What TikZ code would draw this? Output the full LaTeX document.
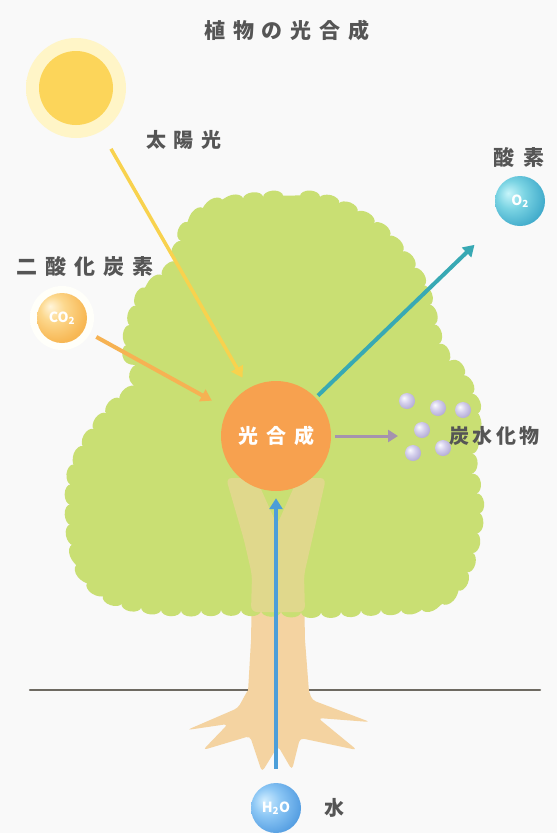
\documentclass[tikz,border=0pt]{standalone}
\usepackage{fontspec}
\newfontfamily\jp{Noto Sans CJK JP}
\usetikzlibrary{arrows.meta,decorations.pathmorphing}

\definecolor{bgc}{HTML}{F9F9F9}
\definecolor{leaf}{HTML}{C9DF73}
\definecolor{bark}{HTML}{F4D3A1}
\definecolor{labgray}{HTML}{555555}
\definecolor{sunc}{HTML}{FCD55A}
\definecolor{yelarr}{HTML}{F8D24E}
\definecolor{orarr}{HTML}{F6B253}
\definecolor{tealarr}{HTML}{38A9B4}
\definecolor{purparr}{HTML}{A593AE}
\definecolor{bluearr}{HTML}{4C9ED9}
\definecolor{psc}{HTML}{F7A14F}
\definecolor{groundc}{HTML}{6E6A62}

% soft spheres, lit from the upper left
\pgfdeclareradialshading{orangeball}{\pgfpoint{-12bp}{12bp}}{rgb(0bp)=(1,0.96,0.86); rgb(12bp)=(0.99,0.85,0.56); rgb(30bp)=(0.97,0.72,0.33); rgb(60bp)=(0.96,0.70,0.30)}
\pgfdeclareradialshading{tealball}{\pgfpoint{-12bp}{8bp}}{rgb(0bp)=(0.78,0.96,0.98); rgb(14bp)=(0.48,0.83,0.89); rgb(32bp)=(0.24,0.66,0.79); rgb(60bp)=(0.20,0.60,0.76)}
\pgfdeclareradialshading{blueball}{\pgfpoint{-12bp}{8bp}}{rgb(0bp)=(0.82,0.93,1); rgb(14bp)=(0.55,0.78,0.96); rgb(32bp)=(0.32,0.61,0.88); rgb(60bp)=(0.28,0.56,0.85)}
\pgfdeclareradialshading{lavball}{\pgfpoint{-10bp}{10bp}}{rgb(0bp)=(0.98,0.98,1); rgb(14bp)=(0.84,0.82,0.93); rgb(32bp)=(0.69,0.66,0.83); rgb(60bp)=(0.66,0.63,0.80)}
% pale halos fading into the paper
\pgfdeclareradialshading{sunglow}{\pgfpoint{0bp}{0bp}}{rgb(0bp)=(1,0.96,0.78); rgb(36bp)=(1,0.96,0.78); rgb(42bp)=(0.995,0.975,0.88); rgb(50bp)=(0.976,0.976,0.976)}
\pgfdeclareradialshading{orangeglow}{\pgfpoint{0bp}{0bp}}{rgb(0bp)=(1,1,0.98); rgb(38bp)=(1,1,0.98); rgb(50bp)=(0.976,0.976,0.976)}

\begin{document}
\begin{tikzpicture}[x=1pt,y=-1pt,
  lab/.style={font=\jp\bfseries\fontsize{20}{24}\selectfont\addfontfeature{LetterSpace=38}, text=labgray, inner sep=0pt},
  gasball/.style={circle, inner sep=0pt, minimum size=50pt, text=white, font=\jp\bfseries\fontsize{14}{16}\selectfont},
  carbball/.style={circle, inner sep=0pt, minimum size=16pt, shading=lavball},
  arr/.style={line width=4pt, -{Triangle[width=13pt,length=11pt]}},
  canopy/.style={fill=leaf, decorate, decoration={bumps, segment length=40pt, amplitude=6pt}},
]
\fill[bgc] (0,0) rectangle (557,833);
\useasboundingbox (0,0) rectangle (557,833);

% title
\node[lab, font=\jp\bfseries\fontsize{21}{24}\selectfont\addfontfeature{LetterSpace=38}] (title) at (287,30) {植物の光合成};

% sun
\shade[shading=sunglow] (76,88) circle (50pt);
\node[circle, fill=sunc, minimum size=74pt, inner sep=0pt] (sun) at (76,88) {};
\node[lab] (lsun) at (184,140) {太陽光};

% ground
\draw[groundc, line width=2.5pt, line cap=round] (30,690) -- (540,690);

% trunk below the crown
\fill[bark] (248,692) -- (251,640) -- (252,590) -- (304,590) -- (305,640) -- (309,692) -- cycle;

% tree crown
\fill[canopy] plot[smooth cycle, tension=0.55] coordinates {
  (240,200) (300,196) (340,205) (375,225) (400,250) (420,280) (430,310)
  (440,345) (462,375) (475,410) (472,460) (478,510) (470,560) (455,590)
  (425,606) (370,610) (320,612) (240,610) (170,610) (120,602) (88,580)
  (73,540) (72,480) (88,440) (110,410) (133,385) (128,345) (140,300)
  (170,268) (183,235) (205,210)};

% forked trunk showing through the leaves
\fill[bark, opacity=0.55, rounded corners=6pt] (251,612) -- (252,575) -- (244,540) -- (226,478) -- (256,478)
  -- (277,525) -- (298,478) -- (326,478) -- (312,540) -- (304,575) -- (305,612) -- cycle;

% roots
\fill[bark, rounded corners=4pt] (249,688) -- (238,708) -- (187,730) -- (228,724) -- (203,750)
  -- (250,736) -- (262,772) -- (278,746) -- (292,770) -- (300,738) -- (357,750) -- (318,718)
  -- (370,722) -- (312,700) -- (308,688) -- cycle;

% photosynthesis
\node[circle, fill=psc, minimum size=110pt, inner sep=0pt, text=white,
      font=\jp\bfseries\fontsize{20}{24}\selectfont\addfontfeature{LetterSpace=40}] (ps) at (276,436) {光合成};

% carbon dioxide
\node[lab, font=\jp\bfseries\fontsize{21}{24}\selectfont\addfontfeature{LetterSpace=38}] (lco2) at (85,267) {二酸化炭素};
\shade[shading=orangeglow] (62,318) circle (32pt);
\node[gasball, shading=orangeball] (co2) at (62,318) {CO\textsubscript{2}};

% oxygen
\node[lab, font=\jp\bfseries\fontsize{21}{24}\selectfont\addfontfeature{LetterSpace=40}] (lo2) at (519,157) {酸素};
\node[gasball, minimum size=50pt, shading=tealball] (o2) at (520,201) {O\textsubscript{2}};

% carbohydrate
\node[carbball] (c1) at (407,401) {};
\node[carbball] (c2) at (438,408) {};
\node[carbball] (c3) at (463,410) {};
\node[carbball] (c4) at (422,430) {};
\node[carbball] (c5) at (413,453) {};
\node[carbball] (c6) at (443,448) {};
\node[lab, anchor=west, font=\jp\bfseries\fontsize{20}{24}\selectfont\addfontfeature{LetterSpace=18}] (lcarb) at (449,436) {炭水化物};
\coordinate (carbin) at (398,436);

% water
\node[gasball, shading=blueball] (h2o) at (276,808) {H\textsubscript{2}O};
\node[lab] (lh2o) at (334,808) {水};

% flows
\draw[arr, yelarr, line width=3.5pt, shorten <=33pt, shorten >=12pt] (sun) -- (ps);
\draw[arr, orarr, shorten <=14pt, shorten >=18pt] (co2) -- (ps);
\draw[arr, tealarr, shorten <=3pt, shorten >=38pt] (ps) -- (o2);
\draw[arr, purparr, line width=3pt, -{Triangle[width=12pt,length=10pt]}, shorten <=4pt] (ps) -- (carbin);
\draw[arr, bluearr, shorten <=14pt, shorten >=7pt] (h2o) -- (ps);
\end{tikzpicture}
\end{document}
